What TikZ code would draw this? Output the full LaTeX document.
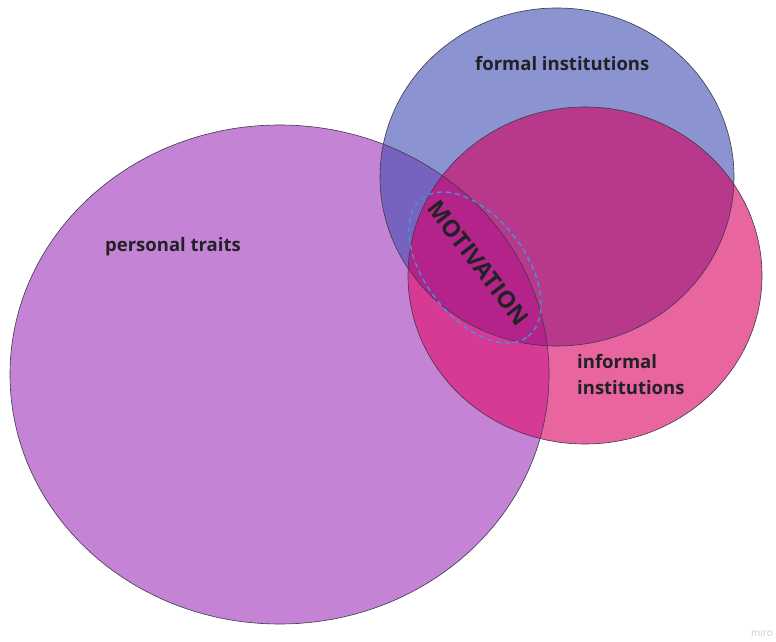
\documentclass[tikz,border=0pt]{standalone}
\usepackage{fontspec}
\setmainfont{Open Sans}
\usetikzlibrary{shapes.geometric}
\definecolor{cP}{HTML}{C583D5}
\definecolor{cB}{HTML}{8B93D0}
\definecolor{cK}{HTML}{E8659F}
\definecolor{cPB}{HTML}{7862C0}
\definecolor{cBK}{HTML}{B8398B}
\definecolor{cPK}{HTML}{D73A94}
\definecolor{cPBK}{HTML}{B32389}
\definecolor{txt}{HTML}{222226}
\definecolor{dashc}{HTML}{3A9BE0}
\definecolor{outl}{HTML}{3A3A4A}
\tikzset{
  lbl/.style={font=\fontsize{18.5}{26}\selectfont\bfseries, text=txt, align=left, inner sep=0pt},
  outline/.style={draw=outl, line width=0.6pt},
}
\newcommand{\ellP}{(279.5,266.5) ellipse [x radius=269.5, y radius=249.5]}
\newcommand{\ellB}{(557,464) ellipse [x radius=177, y radius=169]}
\newcommand{\ellK}{(585,365.5) ellipse [x radius=177, y radius=168.5]}
\begin{document}
\begin{tikzpicture}[x=1pt,y=1pt]
\useasboundingbox (0,0) rectangle (776,641);
\fill[white] (0,0) rectangle (776,641);
% base fills
\fill[cP] \ellP;
\fill[cB] \ellB;
\fill[cK] \ellK;
% pairwise overlaps
\begin{scope}\clip \ellP; \fill[cPB] \ellB; \end{scope}
\begin{scope}\clip \ellP; \fill[cPK] \ellK; \end{scope}
\begin{scope}\clip \ellB; \fill[cBK] \ellK; \end{scope}
\begin{scope}\clip \ellP; \clip \ellB; \fill[cPBK] \ellK; \end{scope}
% outlines
\draw[outline] \ellP;
\draw[outline] \ellB;
\draw[outline] \ellK;
% motivation
\draw[dashc, line width=1.3pt, dash pattern=on 5pt off 4pt, rotate around={-52.7:(475,373.5)}] (475,373.5) ellipse [x radius=87, y radius=50];
\node[text=txt, inner sep=0pt, font=\fontsize{23.5}{26}\selectfont\bfseries, rotate=-52.5] (mot) at (478.5,378) {MOTIVATION};
% labels
\node[lbl, anchor=base west] (formal) at (475,570) {formal institutions};
\node[lbl, anchor=base west] (personal) at (105,390) {personal traits};
\node[lbl, anchor=base west] (informal) at (577,273) {informal};
\node[lbl, anchor=base west] (institutions) at (577,247) {institutions};
\node[font=\fontsize{10}{12}\selectfont, text=black!20, anchor=east, inner sep=0pt] (miro) at (773,8) {miro};
\end{tikzpicture}
\end{document}
